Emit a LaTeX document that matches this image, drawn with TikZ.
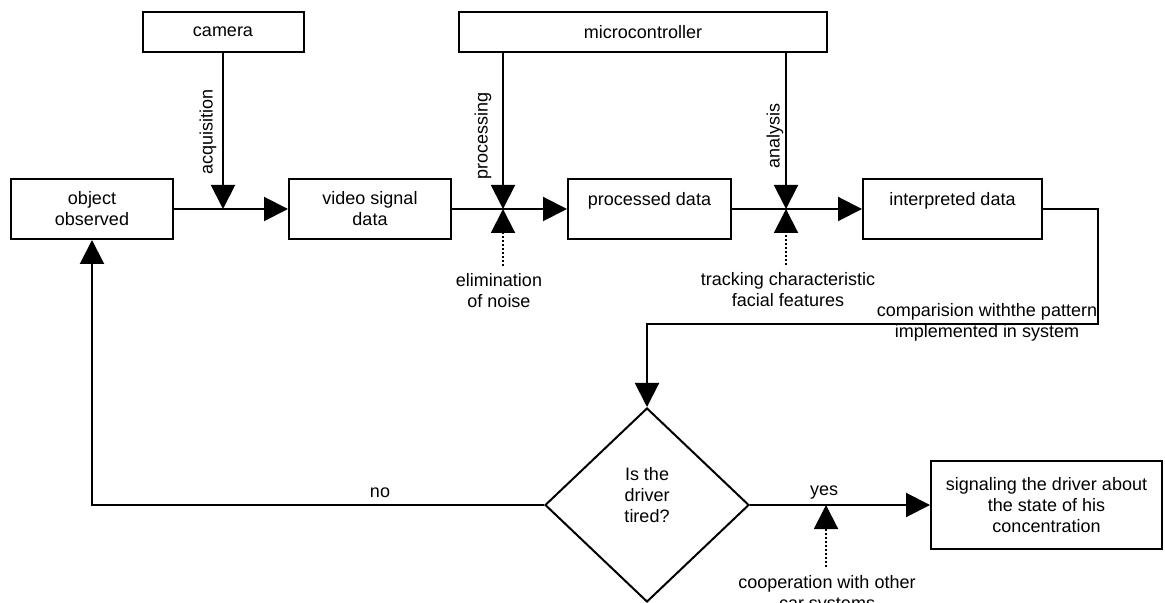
\documentclass[tikz,border=0pt]{standalone}
\usepackage{fontspec}
\setmainfont{Liberation Sans}
\usetikzlibrary{arrows.meta,shapes.geometric}

\begin{document}
\begin{tikzpicture}[x = 0.5pt, y = -0.5pt, line width = 1pt,
                    font = \fontsize{9}{10.5}\selectfont,
                    block/.style = {rectangle, draw, minimum height = 30pt, align = center, inner sep = 0pt},
                    decision/.style = {diamond, draw, minimum width = 102pt, minimum height = 97pt, align = center, inner sep = 0pt},
                    note/.style = {align = center},
                    flow/.style = {-{Triangle[length = 12pt, width = 12pt]}},
                    aux/.style = {dash pattern = on 1pt off 1pt, -{Triangle[length = 12pt, width = 12pt]}}]

\useasboundingbox (0,0) rectangle (1165,603);
\clip (0,0) rectangle (1165,603);

% sources
\node [block, minimum width = 80.5pt, minimum height = 20pt] (camera) at (223,32) {camera};
\node [block, minimum width = 184pt, minimum height = 20pt] (micro) at (643,32) {microcontroller};

% main chain
\node [block, minimum width = 81pt] (object) at (92,209) {object\\observed};
\node [block, minimum width = 81pt] (video) at (370,209) {video signal\\data};
\node [block, minimum width = 81.5pt] (processed) at (649.5,209) {processed data\\~};
\node [block, minimum width = 89.5pt] (interpreted) at (952.5,209) {interpreted data\\~};

% decision
\node [decision] (tired) at (647,505) {Is the\\driver\\tired?\\~};
\node [block, minimum width = 115.5pt, minimum height = 44pt] (signal) at (1046.5,505) {signaling the driver about\\the state of his\\concentration};

% junctions
\coordinate (J1) at (223,209);
\coordinate (J2) at (503,209);
\coordinate (J3) at (786,209);
\coordinate (J4) at (826,505);
\coordinate (bend) at (1098,324);

% labels
\node [note, rotate = 90] (acq) at (208,132) {acquisition};
\node [note, rotate = 90] (proc) at (483,136) {processing};
\node [note, rotate = 90] (ana) at (775,136) {analysis};
\node [note] (noise) at (499,291) {elimination\\of noise};
\node [note] (track) at (788,290) {tracking characteristic\\facial features};
\node [note] (compare) at (987,322) {comparision withthe pattern\\implemented in system};
\node [note] (no) at (380,493) {no};
\node [note] (yes) at (824,493) {yes};
\node [note] (coop) at (827,594) {cooperation with other\\car systems};

\draw[flow] (object.east) -- (video.west);
\draw[flow] (video.east) -- (processed.west);
\draw[flow] (processed.east) -- (interpreted.west);

\draw[flow] (camera.south -| J1) -- (J1);
\draw[flow] (micro.south -| J2) -- (J2);
\draw[flow] (micro.south -| J3) -- (J3);

\draw[aux] (noise.north -| J2) -- (J2);
\draw[aux] (track.north -| J3) -- (J3);
\draw[aux] (coop.north -| J4) -- (J4);

\draw[flow] (interpreted.east) -| (bend) -- (bend -| tired.north) -- (tired.north);
\draw[flow] (tired.west) -| (object.south);
\draw[flow] (tired.east) -- (signal.west);

\end{tikzpicture}
\end{document}
